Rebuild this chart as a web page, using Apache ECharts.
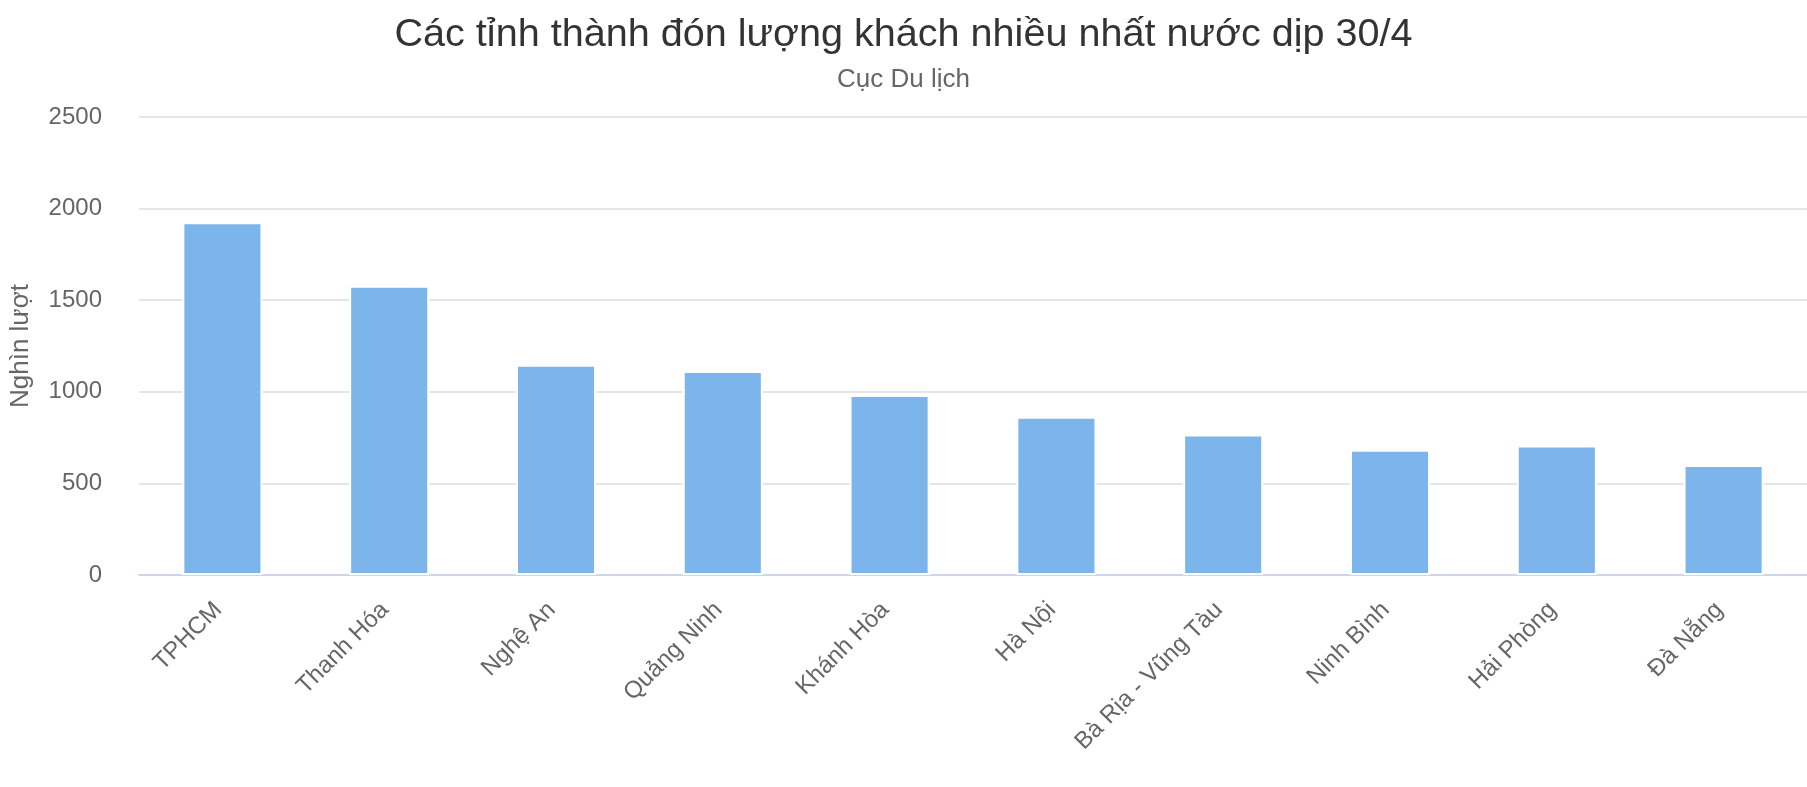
<!DOCTYPE html>
<html>
<head>
<meta charset="utf-8">
<script src="https://cdn.jsdelivr.net/npm/echarts@6/dist/echarts.min.js"></script>
<style>
html,body{margin:0;padding:0;background:#fff;}
#chart{width:1807px;height:787px;}
</style>
</head>
<body>
<div id="chart"></div>
<script>
const titleText = 'Các tỉnh thành đón lượng khách nhiều nhất nước dịp 30/4';
const subtitleText = 'Cục Du lịch';
const yAxisName = 'Nghìn lượt';
const categories = ['TPHCM', 'Thanh Hóa', 'Nghệ An', 'Quảng Ninh', 'Khánh Hòa', 'Hà Nội', 'Bà Rịa - Vũng Tàu', 'Ninh Bình', 'Hải Phòng', 'Đà Nẵng'];
const values = [1925, 1579, 1148, 1113, 982, 864, 767, 684, 707, 600];
const yTicks = [0, 500, 1000, 1500, 2000, 2500];

const font = '"Liberation Sans", Arial, Helvetica, sans-serif';
const chart = echarts.init(document.getElementById('chart'), null, {renderer: 'canvas'});
chart.setOption({
  animation: false,
  backgroundColor: '#ffffff',
  title: [
    {text: titleText, left: 'center', top: 10,
     textStyle: {fontFamily: font, fontSize: 39.6, fontWeight: 'normal', color: '#333333'}},
    {text: subtitleText, left: 'center', top: 62,
     textStyle: {fontFamily: font, fontSize: 26, fontWeight: 'normal', color: '#666666'}}
  ],
  grid: {left: 135, right: -3, top: 117, bottom: 212, containLabel: false},
  xAxis: {
    type: 'category',
    data: categories,
    axisLine: {lineStyle: {color: '#ccd6eb', width: 2}},
    axisTick: {show: false},
    axisLabel: {rotate: 45, margin: 27, interval: 0, padding: [0, 6, 0, 0],
                fontFamily: font, fontSize: 24, color: '#666666'}
  },
  yAxis: {
    type: 'value',
    min: yTicks[0],
    max: yTicks[yTicks.length - 1],
    interval: yTicks[1] - yTicks[0],
    name: yAxisName,
    nameLocation: 'middle',
    nameGap: 105,
    nameTextStyle: {fontFamily: font, fontSize: 26, color: '#666666'},
    axisLine: {show: false},
    axisTick: {show: false},
    axisLabel: {margin: 37, padding: [7, 0, 0, 0], fontFamily: font, fontSize: 24, color: '#666666',
                formatter: function (v) { return String(v); }},
    splitLine: {lineStyle: {color: '#e6e6e6', width: 2}}
  },
  series: [{
    type: 'bar',
    data: values,
    barWidth: '48%',
    itemStyle: {color: '#7cb5ec', borderColor: '#ffffff', borderWidth: 2}
  }]
});
</script>
</body>
</html>
